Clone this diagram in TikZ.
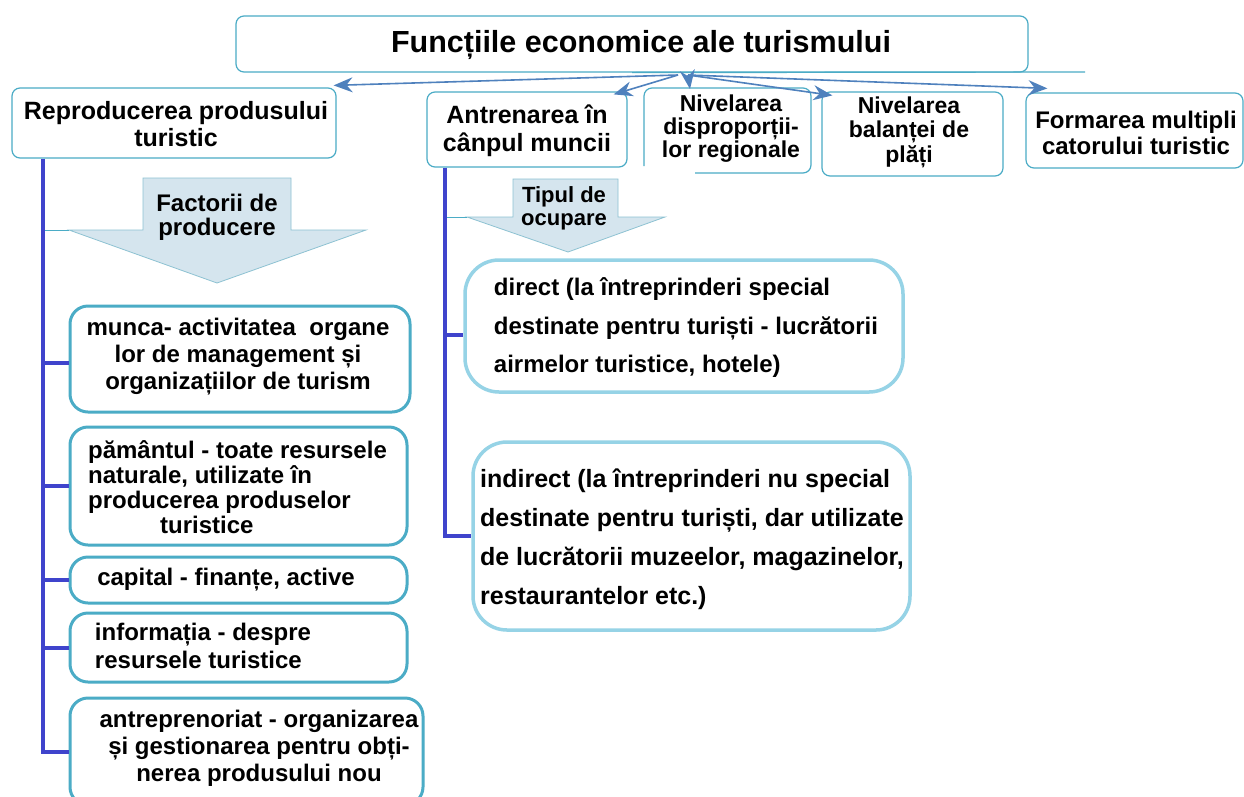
\documentclass[tikz,border=0pt]{standalone}
\usepackage{fontspec}
\setmainfont{Liberation Sans}
\usetikzlibrary{arrows.meta,calc}
\definecolor{tealc}{HTML}{4BACC6}
\definecolor{lightc}{HTML}{96D3E6}
\definecolor{trunkc}{HTML}{3F44CC}
\definecolor{arrc}{HTML}{4F81BD}
\definecolor{callf}{HTML}{D5E5EE}
\definecolor{callb}{HTML}{8DC2D2}
\newcommand\fsz[2]{\fontsize{#1}{#2}\selectfont}
\tikzset{
  topbox/.style={draw=tealc, line width=1.2pt, rounded corners=8pt, fill=white, inner sep=0pt},
  factbox/.style={draw=tealc, line width=3pt, rounded corners=18pt, inner sep=0pt},
  ocbox/.style={draw=lightc, line width=3.5pt, rounded corners=34pt, inner sep=0pt},
  txt/.style={font=\bfseries\fsz{24}{27}, align=center, inner sep=0pt, text=black},
  trunk/.style={draw=trunkc, line width=4pt},
  thinl/.style={draw=tealc, line width=1pt},
  tarrow/.style={draw=arrc, line width=1.6pt, -{Stealth[length=19pt,width=15pt]}},
  callout/.style={fill=callf, draw=callb, line width=0.8pt}
}
\begin{document}
\begin{tikzpicture}[x=1pt,y=-1pt]
\useasboundingbox[fill=white] (0,0) rectangle (1244,796);

% title
\node[topbox, minimum width=792pt, minimum height=56pt] (title) at (632,44) {};
\node[txt, font=\bfseries\fsz{30.5}{33}] (titleT) at (641,45) {Funcțiile economice ale turismului};
\coordinate (tlend) at (1085,72);
\draw[tealc, line width=1.2pt] (title.south) -- (tlend);

% top boxes
\node[topbox, minimum width=324pt, minimum height=70pt] (rep) at (174,123) {};
\node[txt, font=\bfseries\fsz{25}{27}] (repT) at (176,124) {Reproducerea produsului\\turistic};

\node[topbox, minimum width=200pt, minimum height=75pt] (antre) at (527,129.5) {};
\node[txt, font=\bfseries\fsz{25}{28}] (antreT) at (527,131) {Antrenarea în\\cânpul muncii};

\coordinate (nivd) at (644,88);
\draw[tealc, line width=1.2pt, rounded corners=8pt] (644,166) -- (nivd) -- (811,88) -- (811,173) -- (695,173);
\node[txt, font=\bfseries\fsz{23}{23}] (nivdT) at (731,129) {Nivelarea\\disproporții-\\lor regionale};

\node[topbox, minimum width=181pt, minimum height=84pt] (nivb) at (912.5,134) {};
\node[txt, font=\bfseries\fsz{23}{24.5}] (nivbT) at (909,132) {Nivelarea\\balanței de\\plăți};

\node[topbox, minimum width=217pt, minimum height=75pt] (form) at (1134.5,130.5) {};
\node[txt, font=\bfseries\fsz{24}{26}] (formT) at (1136,133) {Formarea multipli\\catorului turistic};

% arrows from title
\coordinate (hub) at (678,75);
\coordinate (hub2) at (688,75);
\draw[tarrow] (hub) -- ($(rep.north east)+(-3,-2)$);
\draw[tarrow] (hub) -- ($(antre.north east)+(-14,3)$);
\draw[tarrow] (hub2) -- ($(nivd)+(46,1)$);
\draw[tarrow] (hub2) -- ($(nivb.north west)+(11,4)$);
\draw[tarrow] (hub2) -- ($(form.north west)+(22,-4)$);

% left column
\coordinate (lx) at (43,0);
\path[callout] (143,178) -- (291,178) -- (291,230) -- (366,230) -- (217,283) -- (69,230) -- (143,230) -- cycle;
\coordinate (fwl) at (69,230);
\node[txt, font=\bfseries\fsz{24}{24}] (fact) at (217,217) {Factorii de\\producere};

\node[factbox, minimum width=340pt, minimum height=106pt] (mun) at (240,359) {};
\node[txt] (munT) at (238,357) {munca- activitatea\ \ organe\\lor de management și\\organizațiilor de turism};

\node[factbox, minimum width=337pt, minimum height=118pt] (pam) at (238.5,486) {};
\node[txt, align=left, font=\bfseries\fsz{24}{25}] (pamT) at (237.5,487) {pământul - toate resursele\\naturale, utilizate în\\producerea produselor\\\hspace*{72pt}turistice};

\node[factbox, minimum width=337pt, minimum height=46pt] (cap) at (238.5,580) {};
\node[txt] (capT) at (226,580) {capital - finanțe, active};

\node[factbox, minimum width=337pt, minimum height=69pt] (inf) at (238.5,647.5) {};
\node[txt, align=left, font=\bfseries\fsz{24}{28}] (infT) at (203,646) {informația - despre\\resursele turistice};

\node[factbox, minimum width=353pt, minimum height=107pt] (ant) at (246.5,751.5) {};
\node[txt] (antT) at (259,748) {antreprenoriat - organizarea\\și gestionarea pentru obți-\\nerea produsului nou};

\draw[thinl] (fwl -| lx) -- (fwl);
\draw[trunk] (rep.south -| lx) |- (ant.west);
\draw[trunk] ($(mun.west -| lx)+(0,4)$) -- ($(mun.west)+(0,4)$);
\draw[trunk] (pam.west -| lx) -- (pam.west);
\draw[trunk] (cap.west -| lx) -- (cap.west);
\draw[trunk] (inf.west -| lx) -- (inf.west);

% right column
\coordinate (rx) at (445,0);
\path[callout] (513,179) -- (618,179) -- (618,217) -- (665,217) -- (568,252) -- (467,217) -- (513,217) -- cycle;
\coordinate (twl) at (467,217);
\node[txt, font=\bfseries\fsz{22}{23}] (tip) at (564,208) {Tipul de\\ocupare};

\node[ocbox, minimum width=438pt, minimum height=132pt] (dir) at (684,326) {};
\node[txt, align=left, font=\bfseries\fsz{24}{38.5}] (dirT) at (686,328) {direct (la întreprinderi special\\destinate pentru turiști - lucrătorii\\airmelor turistice, hotele)};

\node[ocbox, minimum width=437pt, minimum height=188pt] (ind) at (691.5,536) {};
\node[txt, align=left, font=\bfseries\fsz{25}{39}] (indT) at (692,539) {indirect (la întreprinderi nu special\\destinate pentru turiști, dar utilizate\\de lucrătorii muzeelor, magazinelor,\\restaurantelor etc.)};

\draw[thinl] (twl -| rx) -- (twl);
\draw[trunk] (antre.south -| rx) |- (ind.west);
\draw[trunk] ($(dir.west -| rx)+(0,9)$) -- ($(dir.west)+(0,9)$);
\end{tikzpicture}
\end{document}
